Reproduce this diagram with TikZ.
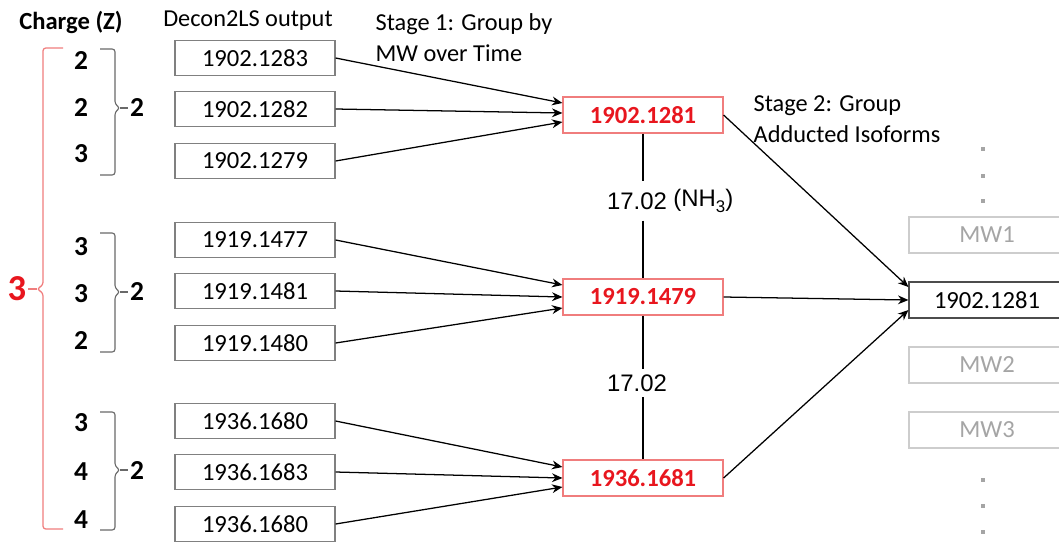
\documentclass[tikz,border=0pt]{standalone}
\usepackage{fontspec}
\setmainfont{Carlito}
\newfontfamily\arialfont{Liberation Sans}
\usetikzlibrary{positioning,arrows.meta}

\definecolor{zred}{RGB}{232,22,30}
\definecolor{boxred}{RGB}{240,125,125}
\definecolor{braceg}{RGB}{105,105,105}
\definecolor{mwline}{RGB}{205,205,205}
\definecolor{mwtext}{RGB}{165,165,165}

\tikzset{
	txt/.style={font=\fontsize{17.3}{22}\selectfont, inner sep=1pt},
	charge/.style={font=\fontsize{19.5}{22}\selectfont\bfseries, inner sep=1pt},
	outbox/.style={draw=gray, line width=0.8pt, minimum width=4cm, minimum height=0.875cm, inner sep=0pt, font=\fontsize{17.5}{20}\selectfont},
	grpbox/.style={outbox, draw=boxred, text=zred, minimum height=0.9cm, font=\fontsize{17.5}{20}\selectfont\bfseries},
	resbox/.style={outbox, draw=black!70, minimum width=3.9cm, minimum height=0.9cm},
	mwbox/.style={outbox, draw=mwline, text=mwtext, minimum width=3.9cm, minimum height=0.9cm},
	dotsq/.style={fill=mwtext, minimum size=0.09cm, inner sep=0pt},
	diff/.style={font=\arialfont\fontsize{17}{20}\selectfont, inner xsep=1pt},
	brace/.style={draw=braceg, line width=0.8pt, rounded corners=2pt},
	rbrace/.style={draw=boxred, line width=0.9pt, rounded corners=2pt},
	arr/.style={-{Stealth[length=2.6mm,width=2.2mm]}, line width=0.9pt}
}

\begin{document}
\begin{tikzpicture}[x=0.025cm, y=-0.025cm]
		\useasboundingbox (0,0) rectangle (1059,541);

		% headings
		\node[charge, font=\fontsize{17.5}{20}\selectfont\bfseries] (hz) at ( 71, 22) {Charge (Z)};
		\node[txt] (hd) at (248, 21) {Decon2LS output};
		\node[txt, anchor=north west, align=left] (s1) at (374, 12) {Stage 1: Group by\\MW over Time};
		\node[txt, anchor=north west, align=left] (s2) at (752, 94) {Stage 2: Group\\Adducted Isoforms};

		% charge states
		\node[charge] (z1) at ( 81, 61) {2};
		\node[charge] (z2) at ( 81,108) {2};
		\node[charge] (z3) at ( 81,154) {3};
		\node[charge] (z4) at ( 81,247) {3};
		\node[charge] (z5) at ( 81,294) {3};
		\node[charge] (z6) at ( 81,341) {2};
		\node[charge] (z7) at ( 81,423) {3};
		\node[charge] (z8) at ( 81,472) {4};
		\node[charge] (z9) at ( 81,520) {4};

		\node[charge] (g1) at (137,108) {2};
		\node[charge] (g2) at (137,292) {2};
		\node[charge] (g3) at (137,470) {2};
		\node[charge, text=zred, font=\fontsize{26}{28}\selectfont\bfseries] (zt) at (17,289) {3};

		% brackets
		\draw[brace] (100, 49) -| (115,104) -- (120,108) -- (115,112) |- (100,175);
		\draw[brace] (120,108) -- (g1.west);
		\draw[brace] (100,233) -| (115,288) -- (120,292) -- (115,296) |- (100,352);
		\draw[brace] (120,292) -- (g2.west);
		\draw[brace] (100,412) -| (115,466) -- (120,470) -- (115,474) |- (100,530);
		\draw[brace] (120,470) -- (g3.west);
		\draw[rbrace] (63, 48) -| (43,285) -- (37,289) -- (43,293) |- (63,529);
		\draw[rbrace] (37,289) -- (zt.east);

		% Decon2LS masses
		\node[outbox] (l1) at (255, 58) {1902.1283};
		\node[outbox] (l2) at (255,109) {1902.1282};
		\node[outbox] (l3) at (255,161) {1902.1279};
		\node[outbox] (l4) at (255,240) {1919.1477};
		\node[outbox] (l5) at (255,291) {1919.1481};
		\node[outbox] (l6) at (255,343) {1919.1480};
		\node[outbox] (l7) at (255,421) {1936.1680};
		\node[outbox] (l8) at (255,472) {1936.1683};
		\node[outbox] (l9) at (255,524) {1936.1680};

		% grouped masses
		\node[grpbox] (m1) at (643,115) {1902.1281};
		\node[grpbox] (m2) at (643,297) {1919.1479};
		\node[grpbox] (m3) at (643,478) {1936.1681};

		\draw[arr] (l1.east) -- ([yshift= 0.3cm]m1.west);
		\draw[arr] (l2.east) -- ([yshift= 0.05cm]m1.west);
		\draw[arr] (l3.east) -- ([yshift=-0.175cm]m1.west);
		\draw[arr] (l4.east) -- ([yshift= 0.3cm]m2.west);
		\draw[arr] (l5.east) -- (m2.west);
		\draw[arr] (l6.east) -- ([yshift=-0.275cm]m2.west);
		\draw[arr] (l7.east) -- ([yshift= 0.275cm]m3.west);
		\draw[arr] (l8.east) -- (m3.west);
		\draw[arr] (l9.east) -- ([yshift=-0.225cm]m3.west);

		% mass differences
		\node[diff, inner ysep=0.27cm] (d1) at (637,201) {17.02};
		\node[diff, right=0.08cm of d1] (nh) {(NH\raisebox{-0.28em}{\fontsize{12}{12}\selectfont 3})};
		\node[diff, inner ysep=0.14cm] (d2) at (637,383) {17.02};
		\draw[line width=0.9pt] (m1.south) -- (m1.south |- d1.north);
		\draw[line width=0.9pt] (m1.south |- d1.south) -- (m2.north);
		\draw[line width=0.9pt] (m2.south) -- (m2.south |- d2.north);
		\draw[line width=0.9pt] (m2.south |- d2.south) -- (m3.north);

		% isoform groups
		\node[mwbox] (mw1) at (987,235) {MW1};
		\node[resbox] (r) at (987,300) {1902.1281};
		\node[mwbox] (mw2) at (987,365) {MW2};
		\node[mwbox] (mw3) at (987,430) {MW3};

		\node[dotsq] (t1) at (983,149) {};
		\node[dotsq] (t2) at (983,176) {};
		\node[dotsq] (t3) at (983,201) {};
		\node[dotsq] (b1) at (983,480) {};
		\node[dotsq] (b2) at (983,506) {};
		\node[dotsq] (b3) at (983,532) {};

		\draw[arr] (m1.east) -- ([yshift= 0.325cm]r.west);
		\draw[arr] (m2.east) -- (r.west);
		\draw[arr] (m3.east) -- ([yshift=-0.25cm]r.west);

	\end{tikzpicture}
\end{document}
